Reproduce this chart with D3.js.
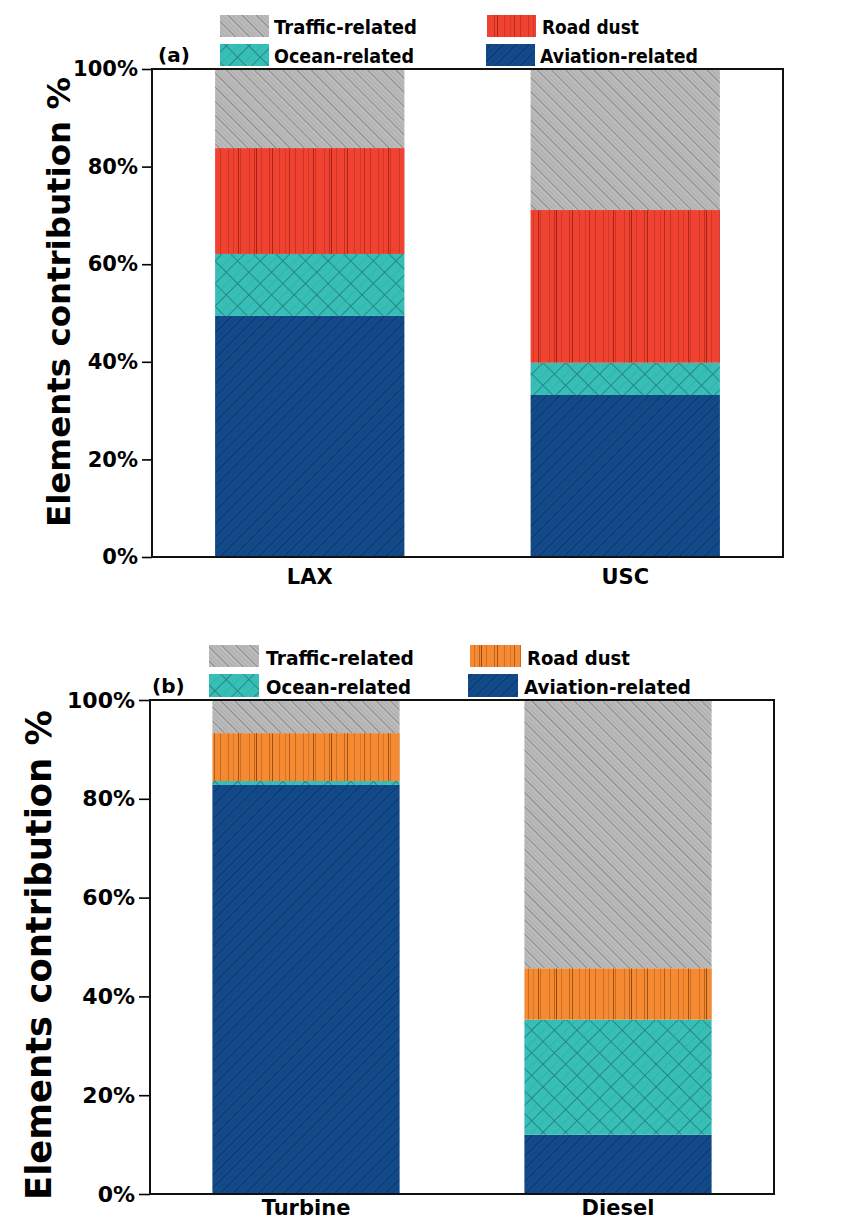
<!DOCTYPE html>
<html>
<head>
<meta charset="utf-8">
<script src="https://cdn.jsdelivr.net/npm/d3@7"></script>
<style>
  html, body { margin: 0; padding: 0; background: #ffffff; }
  svg { display: block; }
  text { font-family: "DejaVu Sans", Verdana, sans-serif; font-weight: bold; fill: #000; }
</style>
</head>
<body>
<svg id="chart" width="854" height="1231"></svg>
<script>
// Source apportionment shares (percent of elements), stacked bottom to top
const sources = ["Aviation-related", "Ocean-related", "Road dust", "Traffic-related"];

// Panel (a): sampling sites
const sitesA = ["LAX", "USC"];
const aviationA = [49.4, 33.2];
const oceanA = [12.7, 6.6];
const roadDustA = [21.7, 31.3];
const trafficA = [16.2, 28.9];

// Panel (b): engine types
const enginesB = ["Turbine", "Diesel"];
const aviationB = [82.8, 12.0];
const oceanB = [0.8, 23.3];
const roadDustB = [9.7, 10.4];
const trafficB = [6.7, 54.3];

const yTicks = [0, 20, 40, 60, 80, 100];

const svg = d3.select("#chart");
const defs = svg.append("defs");

// ---- fill patterns ----
function hatchPattern(id, bg, lines, angle, size) {
  const p = defs.append("pattern")
    .attr("id", id)
    .attr("patternUnits", "userSpaceOnUse")
    .attr("width", size).attr("height", size)
    .attr("patternTransform", `rotate(${angle})`);
  p.append("rect").attr("width", size).attr("height", size).attr("fill", bg);
  lines.forEach(l => {
    p.append("line")
      .attr("x1", l.x).attr("x2", l.x).attr("y1", 0).attr("y2", size)
      .attr("stroke", l.c).attr("stroke-width", l.w);
  });
  return p;
}

// Traffic: grey with fine "\" hatching
hatchPattern("pat-traffic", "#bbbbbb",
  [{x: 0.5, c: "#858585", w: 0.9}, {x: 3.5, c: "#a6a6a6", w: 0.7}, {x: 6.5, c: "#a9a9a9", w: 0.7}],
  -45, 10);

// Aviation: navy with "/" hatching
hatchPattern("pat-aviation", "#124a8a",
  [{x: 0.5, c: "#0b3264", w: 0.8}, {x: 5, c: "#0f3e76", w: 0.6}],
  45, 9);

// Ocean: teal cross-hatch
(function () {
  const size = 16;
  const p = defs.append("pattern")
    .attr("id", "pat-ocean")
    .attr("patternUnits", "userSpaceOnUse")
    .attr("width", size).attr("height", size)
    .attr("patternTransform", "rotate(45)");
  p.append("rect").attr("width", size).attr("height", size).attr("fill", "#37bfb7");
  p.append("line").attr("x1", 0.5).attr("x2", 0.5).attr("y1", 0).attr("y2", size)
    .attr("stroke", "#24827c").attr("stroke-width", 0.9);
  p.append("line").attr("y1", 0.5).attr("y2", 0.5).attr("x1", 0).attr("x2", size)
    .attr("stroke", "#24827c").attr("stroke-width", 0.9);
  p.append("line").attr("x1", 9).attr("x2", 9).attr("y1", 0).attr("y2", size)
    .attr("stroke", "#2ea39c").attr("stroke-width", 0.5);
})();

// Road dust: irregular vertical striping
const stripeMarks = [
  {x: 3, o: 0.35}, {x: 8, o: 0.25}, {x: 13, o: 0.7}, {x: 15, o: 0.35},
  {x: 24, o: 0.3}, {x: 29, o: 0.5}, {x: 31, o: 0.8}, {x: 36, o: 0.3},
  {x: 44, o: 0.45}, {x: 47, o: 0.7}, {x: 54, o: 0.3},
  {x: 60, o: 0.25}, {x: 64, o: 0.55}, {x: 70, o: 0.4}
];
function stripePattern(id, bg, ink) {
  const w = 75;
  const p = defs.append("pattern")
    .attr("id", id)
    .attr("patternUnits", "userSpaceOnUse")
    .attr("width", w).attr("height", 10);
  p.append("rect").attr("width", w).attr("height", 10).attr("fill", bg);
  stripeMarks.forEach(s => {
    p.append("line").attr("x1", s.x + 0.5).attr("x2", s.x + 0.5).attr("y1", 0).attr("y2", 10)
      .attr("stroke", ink).attr("stroke-opacity", s.o).attr("stroke-width", 1);
  });
}
stripePattern("pat-road-red", "#ef4230", "#8a1a10");
stripePattern("pat-road-orange", "#f58a32", "#7a3a08");

// ---- panel drawing ----
function drawPanel(cfg) {
  const rows = cfg.categories.map((c, i) => ({
    category: c,
    "Aviation-related": cfg.aviation[i],
    "Ocean-related": cfg.ocean[i],
    "Road dust": cfg.roadDust[i],
    "Traffic-related": cfg.traffic[i]
  }));
  const stacked = d3.stack().keys(sources)(rows);

  const x = d3.scaleBand()
    .domain(cfg.categories)
    .range([cfg.left, cfg.right])
    .paddingInner(0.4)
    .paddingOuter(0.2);
  const y = d3.scaleLinear().domain([0, 100]).range([cfg.bottom, cfg.top]);

  const g = svg.append("g");

  // stacked bars
  stacked.forEach(layer => {
    g.append("g")
      .selectAll("rect")
      .data(layer)
      .join("rect")
      .attr("x", d => x(d.data.category))
      .attr("width", x.bandwidth())
      .attr("y", d => y(d[1]))
      .attr("height", d => y(d[0]) - y(d[1]))
      .attr("fill", `url(#${cfg.fills[layer.key]})`);
  });

  // y axis
  const yAxis = g.append("g")
    .attr("transform", `translate(${cfg.left},0)`)
    .call(d3.axisLeft(y).tickValues(yTicks).tickFormat(d => d + "%")
      .tickSize(cfg.tickLen).tickPadding(4));
  yAxis.select(".domain").remove();
  yAxis.selectAll(".tick line").attr("stroke", "#000").attr("stroke-width", 1.6);
  yAxis.selectAll(".tick text")
    .style("font-family", '"DejaVu Sans", Verdana, sans-serif')
    .style("font-weight", "bold")
    .style("font-size", cfg.tickFont + "px")
    .attr("fill", "#000");

  // x axis labels
  const xAxis = g.append("g")
    .attr("transform", `translate(0,${cfg.bottom})`)
    .call(d3.axisBottom(x).tickSize(0).tickPadding(cfg.xPad));
  xAxis.select(".domain").remove();
  xAxis.selectAll(".tick text")
    .style("font-family", '"DejaVu Sans", Verdana, sans-serif')
    .style("font-weight", "bold")
    .style("font-size", cfg.catFont + "px")
    .attr("fill", "#000");

  // frame
  g.append("rect")
    .attr("x", cfg.left).attr("y", cfg.top)
    .attr("width", cfg.right - cfg.left).attr("height", cfg.bottom - cfg.top)
    .attr("fill", "none").attr("stroke", "#111").attr("stroke-width", 2);

  // y title
  g.append("text")
    .attr("transform", `translate(${cfg.titleX},${cfg.titleY}) rotate(-90)`)
    .attr("text-anchor", "middle")
    .attr("font-size", cfg.titleFont)
    .attr("textLength", cfg.titleLen)
    .attr("lengthAdjust", "spacingAndGlyphs")
    .text("Elements contribution %");

  // panel tag
  g.append("text")
    .attr("x", cfg.tag.x).attr("y", cfg.tag.y)
    .attr("font-size", 20)
    .text(cfg.tag.text);

  // legend
  cfg.legend.forEach(item => {
    g.append("rect")
      .attr("x", item.sx).attr("y", item.sy)
      .attr("width", item.sw).attr("height", item.sh)
      .attr("fill", `url(#${cfg.fills[item.key]})`);
    g.append("text")
      .attr("x", item.tx).attr("y", item.ty)
      .attr("font-size", 20)
      .attr("textLength", item.tl)
      .attr("lengthAdjust", "spacingAndGlyphs")
      .text(item.key);
  });
}

drawPanel({
  categories: sitesA,
  aviation: aviationA, ocean: oceanA, roadDust: roadDustA, traffic: trafficA,
  left: 152, right: 783, top: 69, bottom: 557,
  tickLen: 10, tickFont: 21, xPad: 12, catFont: 21,
  titleX: 70, titleY: 302, titleFont: 32, titleLen: 450,
  tag: {x: 158, y: 62, text: "(a)"},
  fills: {
    "Aviation-related": "pat-aviation",
    "Ocean-related": "pat-ocean",
    "Road dust": "pat-road-red",
    "Traffic-related": "pat-traffic"
  },
  legend: [
    {key: "Traffic-related", sx: 220, sy: 15, sw: 49, sh: 22, tx: 274, ty: 34, tl: 143},
    {key: "Ocean-related", sx: 220, sy: 44, sw: 49, sh: 22, tx: 274, ty: 63, tl: 140},
    {key: "Road dust", sx: 487, sy: 15, sw: 49, sh: 22, tx: 542, ty: 34, tl: 97},
    {key: "Aviation-related", sx: 486, sy: 44, sw: 49, sh: 22, tx: 540, ty: 63, tl: 158}
  ]
});

drawPanel({
  categories: enginesB,
  aviation: aviationB, ocean: oceanB, roadDust: roadDustB, traffic: trafficB,
  left: 150, right: 774, top: 700, bottom: 1194,
  tickLen: 11, tickFont: 22, xPad: 6, catFont: 21,
  titleX: 51, titleY: 955, titleFont: 36, titleLen: 490,
  tag: {x: 152, y: 693, text: "(b)"},
  fills: {
    "Aviation-related": "pat-aviation",
    "Ocean-related": "pat-ocean",
    "Road dust": "pat-road-orange",
    "Traffic-related": "pat-traffic"
  },
  legend: [
    {key: "Traffic-related", sx: 209, sy: 645, sw: 50, sh: 22, tx: 266, ty: 665, tl: 148},
    {key: "Ocean-related", sx: 209, sy: 674, sw: 50, sh: 23, tx: 266, ty: 694, tl: 145},
    {key: "Road dust", sx: 470, sy: 645, sw: 51, sh: 22, tx: 527, ty: 665, tl: 103},
    {key: "Aviation-related", sx: 468, sy: 674, sw: 50, sh: 23, tx: 524, ty: 694, tl: 167}
  ]
});
</script>
</body>
</html>
